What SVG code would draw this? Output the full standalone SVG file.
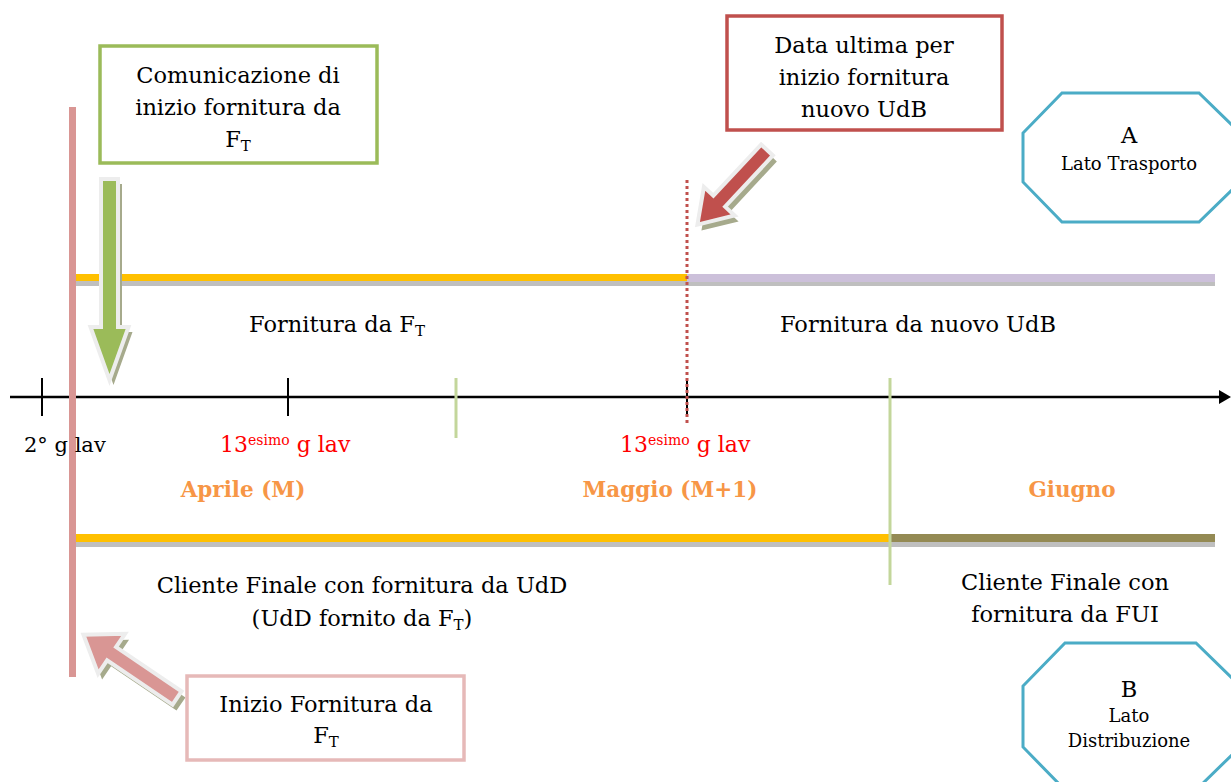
<svg xmlns="http://www.w3.org/2000/svg" width="1231" height="782" viewBox="0 0 1231 782">
<style>
text{font-family:"DejaVu Serif","Liberation Serif",serif;font-size:22.5px;fill:#000;}
.c{text-anchor:middle;}
.red{fill:#FF0000;font-size:22px;}
.tick{font-size:21px;}
.mon{font-weight:bold;fill:#F79646;font-size:21.5px;text-anchor:middle;}
.sm{font-size:18px;}
.box{fill:#fff;stroke-width:3.5;}
.oct{fill:#fff;stroke:#4BACC6;stroke-width:3;}
.shadow{fill:#A6AA8C;}
.rim{stroke:#EDEDED;stroke-width:4;stroke-linejoin:miter;}
</style>
<rect width="1231" height="782" fill="#fff"/>

<g id="bars">
  <rect x="75" y="281" width="1140" height="5" fill="#BFBFBF"/>
  <rect x="73" y="274" width="614" height="7" fill="#FFC000"/>
  <rect x="687" y="274" width="528" height="8" fill="#CCC0DA"/>
  <rect x="75" y="542" width="1140" height="5" fill="#BFBFBF"/>
  <rect x="73" y="534" width="817" height="8" fill="#FFC000"/>
  <rect x="890" y="534" width="325" height="8" fill="#948A54"/>
</g>

<g id="connectors">
  <line x1="10" y1="397" x2="1222" y2="397" stroke="#000" stroke-width="2.5"/>
  <polygon points="1219,390 1231,397 1219,404" fill="#000"/>
  <line x1="42" y1="378" x2="42" y2="416" stroke="#000" stroke-width="2"/>
  <line x1="288" y1="378" x2="288" y2="416" stroke="#000" stroke-width="2"/>
  <line x1="687" y1="378" x2="687" y2="416" stroke="#000" stroke-width="2"/>
  <line x1="456" y1="378" x2="456" y2="438" stroke="#C3D69B" stroke-width="3"/>
  <line x1="890" y1="378" x2="890" y2="585" stroke="#C3D69B" stroke-width="3"/>
  <line x1="687" y1="180" x2="687" y2="423" stroke="#C0504D" stroke-width="3" stroke-dasharray="3 3"/>
  <line x1="72.5" y1="107" x2="72.5" y2="677" stroke="#D99694" stroke-width="7"/>
</g>

<g id="arrow-green" transform="translate(109.5,179) rotate(90)">
  <path class="shadow" transform="translate(5,-4)" d="M0,-8.5 L148,-8.5 L148,-19 L201,0 L148,19 L148,8.5 L0,8.5 Z"/>
  <path class="rim" fill="#9BBB59" d="M0,-8.5 L148,-8.5 L148,-19 L201,0 L148,19 L148,8.5 L0,8.5 Z"/>
</g>

<g id="arrow-red" transform="translate(767,150) rotate(133)">
  <path class="shadow" transform="rotate(-133) translate(4,6) rotate(133)" d="M0,-8 L70,-8 L70,-21 L102,0 L70,21 L70,8 L0,8 Z"/>
  <path class="rim" fill="#C0504D" d="M0,-8 L70,-8 L70,-21 L102,0 L70,21 L70,8 L0,8 Z"/>
</g>

<g id="arrow-pink" transform="translate(177,698) rotate(-145.9)">
  <path class="shadow" transform="rotate(145.9) translate(4,6) rotate(-145.9)" d="M0,-8 L79,-8 L79,-24 L113,0 L79,24 L79,8 L0,8 Z"/>
  <path class="rim" fill="#D99694" d="M0,-8 L79,-8 L79,-24 L113,0 L79,24 L79,8 L0,8 Z"/>
</g>

<g id="box-comunicazione">
  <rect class="box" x="100" y="46" width="277" height="117" stroke="#9BBB59"/>
  <text class="c" x="238" y="83">Comunicazione di</text>
  <text class="c" x="238" y="115">inizio fornitura da</text>
  <text class="c" x="238" y="147">F<tspan font-size="15" dy="4">T</tspan></text>
</g>

<g id="box-data-ultima">
  <rect class="box" x="727" y="16" width="275" height="114" stroke="#C0504D"/>
  <text class="c" x="864" y="53">Data ultima per</text>
  <text class="c" x="864" y="85">inizio fornitura</text>
  <text class="c" x="864" y="117">nuovo UdB</text>
</g>

<g id="box-inizio">
  <rect class="box" x="187" y="676" width="277" height="84" stroke="#E6B9B8"/>
  <text class="c" x="326" y="712">Inizio Fornitura da</text>
  <text class="c" x="326" y="743">F<tspan font-size="15" dy="4">T</tspan></text>
</g>

<g id="oct-A">
  <polygon class="oct" points="1062,93 1199,93 1240,133 1240,182 1199,222 1062,222 1023,182 1023,133"/>
  <text class="c" x="1129" y="143">A</text>
  <text class="c sm" x="1129" y="170">Lato Trasporto</text>
</g>

<g id="oct-B">
  <polygon class="oct" points="1065,643 1196,643 1240,686 1240,747 1196,790 1065,790 1023,747 1023,686"/>
  <text class="c" x="1129" y="697">B</text>
  <text class="c sm" x="1129" y="722">Lato</text>
  <text class="c sm" x="1129" y="747">Distribuzione</text>
</g>

<g id="labels">
  <text class="c" x="337" y="332">Fornitura da F<tspan font-size="15" dy="4">T</tspan></text>
  <text class="c" x="918" y="332">Fornitura da nuovo UdB</text>
  <text class="tick" x="24" y="452">2° g lav</text>
  <text class="red" x="220" y="452">13<tspan font-size="14" dy="-7">esimo</tspan><tspan dy="7"> g lav</tspan></text>
  <text class="red" x="620" y="452">13<tspan font-size="14" dy="-7">esimo</tspan><tspan dy="7"> g lav</tspan></text>
  <text class="mon" x="243" y="497">Aprile (M)</text>
  <text class="mon" x="670" y="497">Maggio (M+1)</text>
  <text class="mon" x="1072" y="497">Giugno</text>
  <text class="c" x="362" y="593">Cliente Finale con fornitura da UdD</text>
  <text class="c" x="362" y="626">(UdD fornito da F<tspan font-size="15" dy="4">T</tspan><tspan dy="-4">)</tspan></text>
  <text class="c" x="1065" y="590">Cliente Finale con</text>
  <text class="c" x="1065" y="622">fornitura da FUI</text>
</g>
</svg>
